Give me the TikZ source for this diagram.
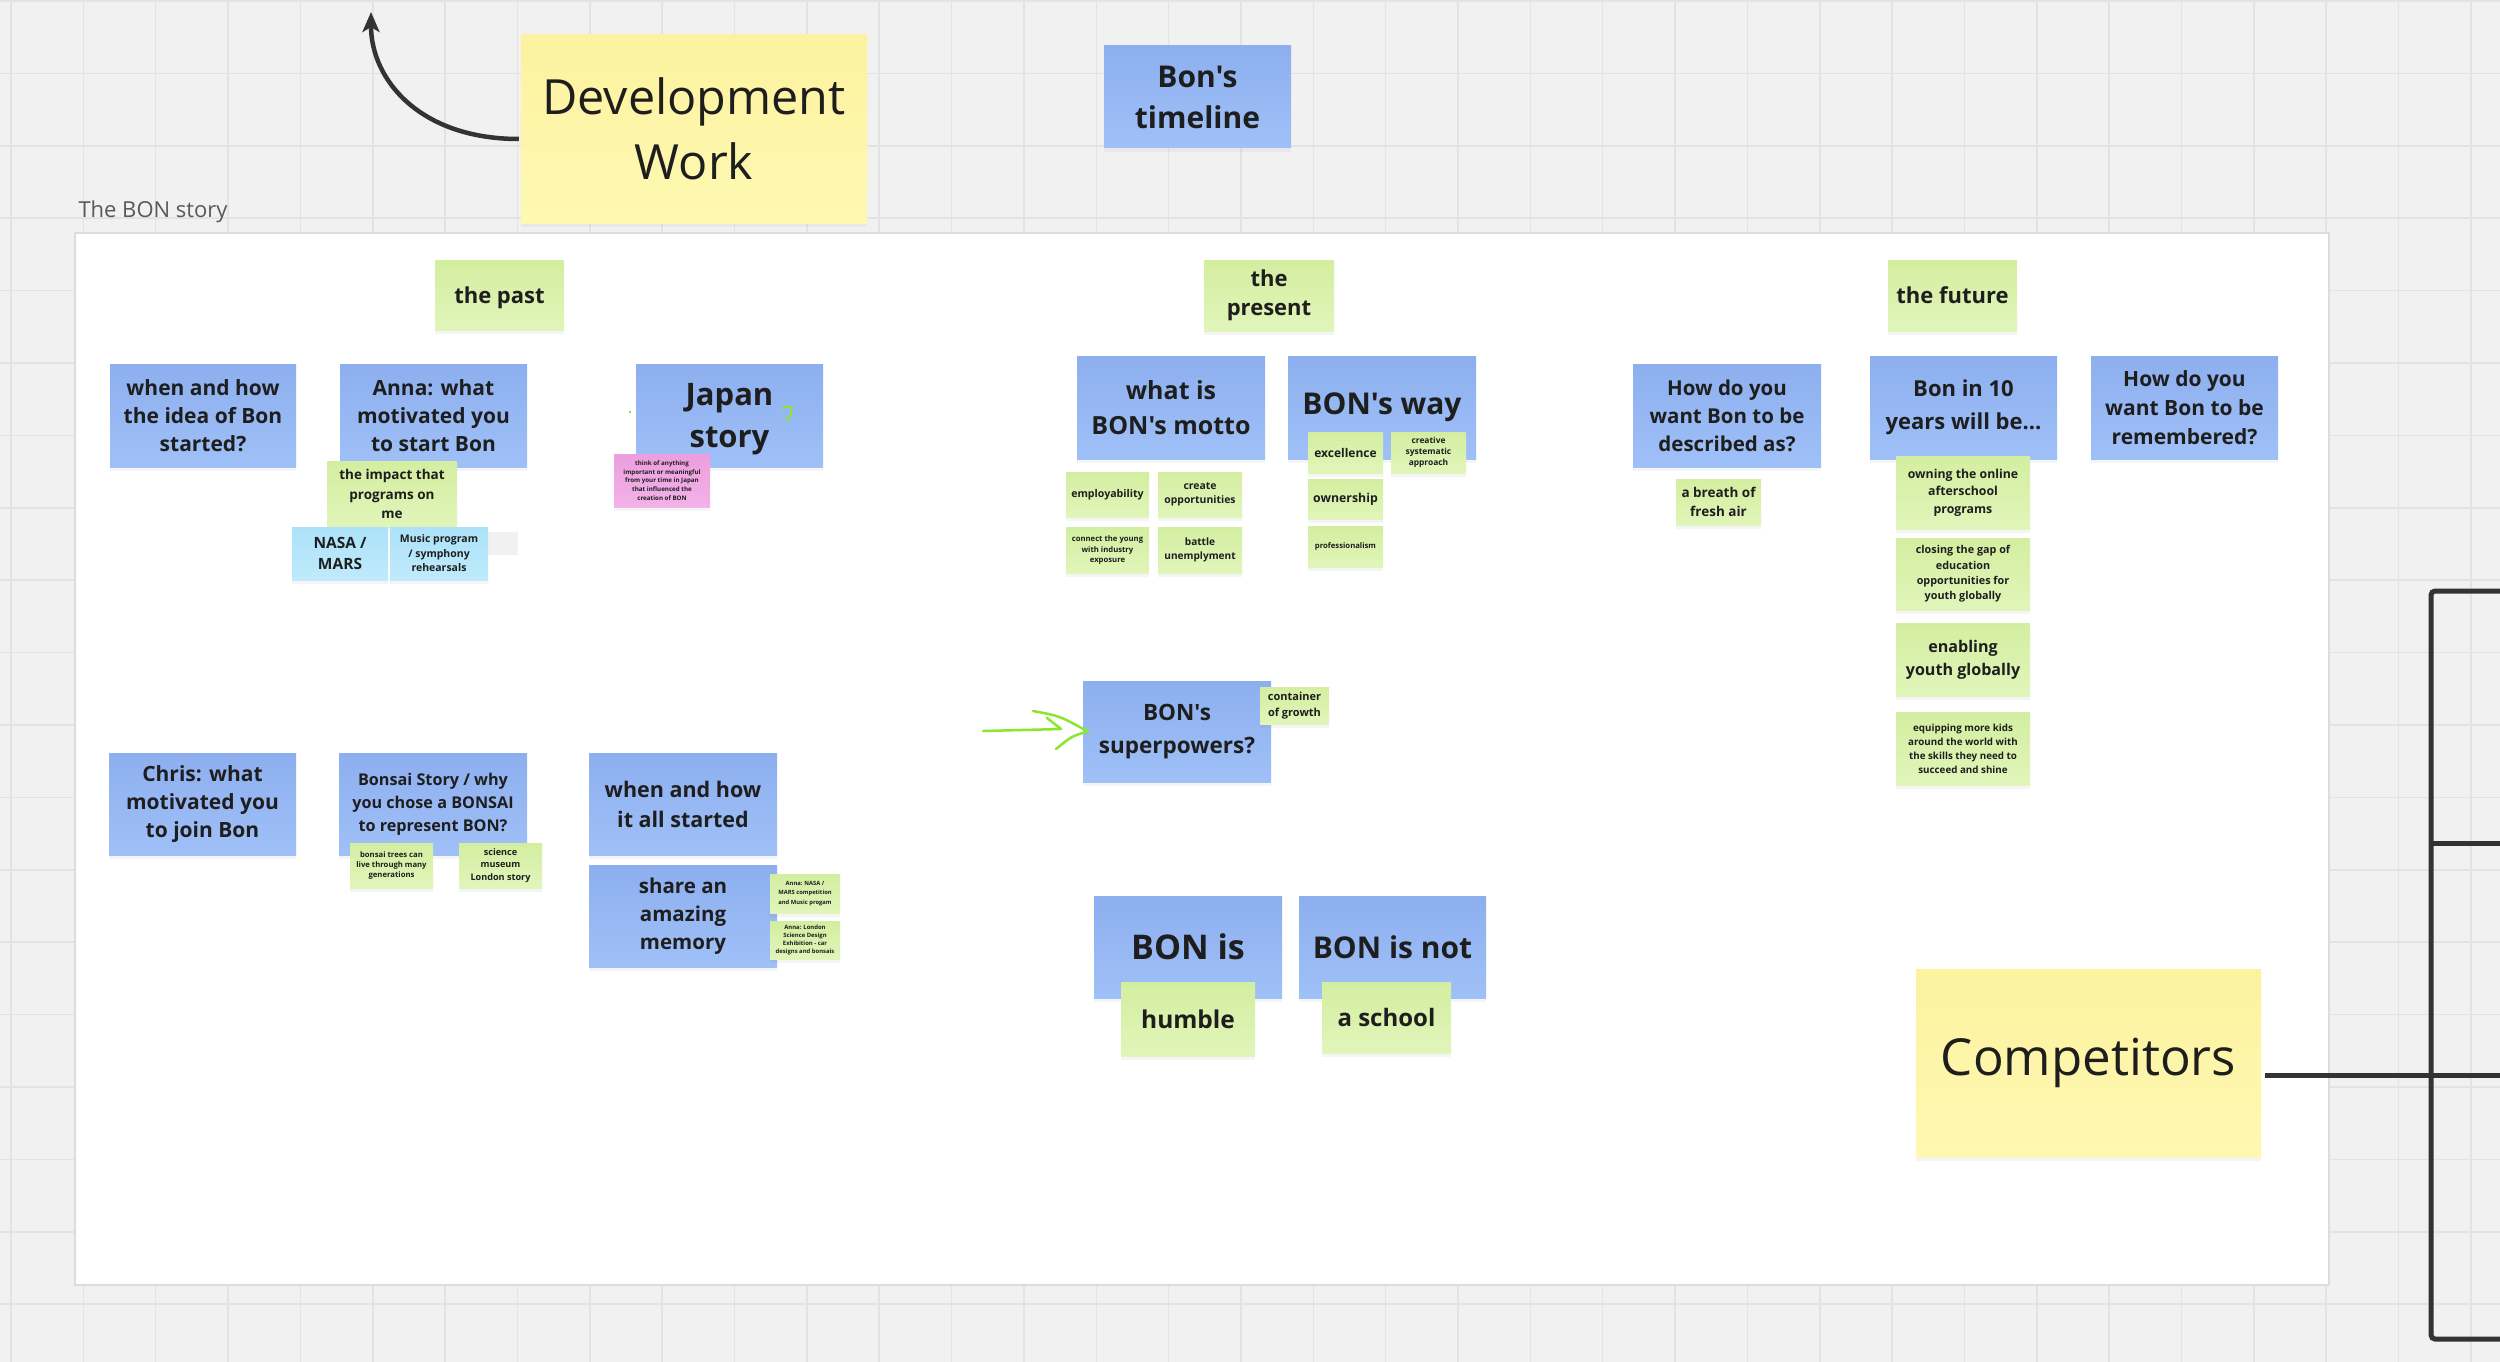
\documentclass[tikz,border=0pt]{standalone}
\usepackage{fontspec}
\setmainfont{Open Sans}
\newfontfamily\osans{Open Sans}
\usetikzlibrary{shadows,arrows.meta,calc}
\definecolor{bgc}{HTML}{F1F1F1}
\definecolor{gridc}{HTML}{E3E3E3}
\definecolor{txt}{HTML}{1E1E1E}
\definecolor{blueT}{HTML}{8DAFEF}
\definecolor{blueB}{HTML}{9FC0F7}
\definecolor{greenT}{HTML}{D3EEA0}
\definecolor{greenB}{HTML}{E1F5BA}
\definecolor{yelT}{HTML}{FCF29F}
\definecolor{yelB}{HTML}{FEF8B2}
\definecolor{lbT}{HTML}{ACE2F9}
\definecolor{lbB}{HTML}{BFEAFC}
\definecolor{pinkT}{HTML}{EC9EDD}
\definecolor{pinkB}{HTML}{F3B2E8}
\definecolor{lime}{HTML}{8BE62E}
\definecolor{darkline}{HTML}{333333}
\definecolor{framec}{HTML}{DCDCDC}
\definecolor{titlec}{HTML}{595959}
\definecolor{graysq}{HTML}{F0F1F3}
\begin{document}
\begin{tikzpicture}[x=1pt,y=-1pt,
  note/.style={inner sep=0pt, align=center, text=txt,
    drop shadow={shadow xshift=0pt, shadow yshift=-4pt, opacity=0.08}},
  bluen/.style={note, top color=blueT, bottom color=blueB},
  greenn/.style={note, top color=greenT, bottom color=greenB},
  yellown/.style={note, top color=yelT, bottom color=yelB},
  lbluen/.style={note, top color=lbT, bottom color=lbB},
  pinkn/.style={note, top color=pinkT, bottom color=pinkB},
  sz/.style n args={2}{minimum width=#1pt, minimum height=#2pt},
  fb/.style n args={2}{font=\osans\fontsize{#1}{#2}\selectfont\bfseries},
  fr/.style n args={2}{font=\osans\fontsize{#1}{#2}\selectfont},
  overtext/.style={inner sep=0pt, align=center, text=txt},
  gridline/.style={draw=gridc, line width=1.5pt},
  heavy/.style={draw=darkline, line width=5pt},
  limestroke/.style={draw=lime, line width=2.5pt, line cap=round, line join=round},
]
\useasboundingbox (0,0) rectangle (2500,1362);
% background grid
\fill[bgc] (0,0) rectangle (2500,1362);
\foreach \k in {0,...,34} \draw[gridline] ({11+72.35*\k},0) -- ({11+72.35*\k},1362);
\foreach \k in {0,...,18} \draw[gridline] (0,{1+72.4*\k}) -- (2500,{1+72.4*\k});

% frame
\node[anchor=base west, text=titlec, font=\osans\fontsize{22}{26}\selectfont] (title) at (75,217) {The BON story};
\draw[fill=white, draw=framec, line width=1.5pt] (75,233) rectangle (2329,1285);

% top notes
\node[yellown, sz={346}{188}, fr={48.5}{65}] (dev) at (694,129) {Development\\Work};
\coordinate (devtip) at (371,12);
\draw[draw=darkline, line width=4.5pt, -{Stealth[length=20pt,width=17pt,inset=5pt]}]
  ([yshift=-10pt,xshift=-2pt]dev.west) .. controls (420,139) and (371,80) .. (devtip);
\node[bluen, sz={187}{102}, fb={30}{41}] (timeline) at (1197.5,97) {Bon's\\timeline};

% headings
\node[greenn, sz={129}{70}] (past) at (499.5,295) {};
\node[overtext, fb={22}{29}] (pasttext) at ([yshift=-2.5pt]past.center) {the past};
\node[greenn, sz={130}{71}, fb={22}{29}] (present) at (1269,295.5) {the\\present};
\node[greenn, sz={129}{71}, fb={22}{29}] (future) at (1952.5,295.5) {the future};

% the past
\node[bluen, sz={186}{103}, fb={21}{28}] (idea) at (203,415.5) {when and how\\the idea of Bon\\started?};
\node[bluen, sz={187}{103}, fb={21}{28}] (anna) at (433.5,415.5) {Anna: what\\motivated you\\to start Bon};
\node[greenn, sz={130}{66}, fb={13.5}{19.5}] (impact) at (392,494) {the impact that\\programs on\\me};
\fill[graysq] (482,532) rectangle (518,555);
\node[lbluen, sz={96}{53}, fb={15.5}{21.5}] (nasa) at (340,553.5) {NASA /\\MARS};
\node[lbluen, sz={98}{53}, fb={10.5}{14.5}] (music) at (439,553.5) {Music program\\/ symphony\\rehearsals};
\node[bluen, sz={187}{103}] (japan) at (729.5,415.5) {};
\node[overtext, fb={31}{42}] (japantext) at ([yshift=-4pt]japan.center) {Japan\\story};
\draw[draw=lime, line width=2pt, line cap=round] (783,408) .. controls (790,403) and (797,410) .. (786,421);
\fill[lime] (630,412) circle (1.3);
\node[pinkn, sz={96}{53}, fb={6.2}{8.8}] (pink) at (662,480.5) {think of anything\\important or meaningful\\from your time in Japan\\that influenced the\\creation of BON};

\node[bluen, sz={187}{102}, fb={21}{28}] (chris) at (202.5,804) {Chris: what\\motivated you\\to join Bon};
\node[bluen, sz={188}{102}, fb={16.2}{23}] (bonsai) at (433,804) {Bonsai Story / why\\you chose a BONSAI\\to represent BON?};
\node[greenn, sz={83}{45}, fb={7.7}{10.3}] (trees) at (391.5,865.5) {bonsai trees can\\live through many\\generations};
\node[greenn, sz={83}{45}, fb={9.1}{12.7}] (science) at (500.5,865.5) {science\\museum\\London story};
\node[bluen, sz={188}{102}, fb={21.5}{30}] (started) at (683,804) {when and how\\it all started};
\node[bluen, sz={188}{102}, fb={20.5}{28}] (memory) at (683,916) {share an\\amazing\\memory};
\node[greenn, sz={70}{39}, fb={5.8}{9.2}] (annanasa) at (805,893.5) {Anna: NASA /\\MARS competition\\and Music progam};
\node[greenn, sz={70}{38}, fb={5.9}{7.9}] (annalondon) at (805,940) {Anna: London\\Science Design\\Exhibition - car\\designs and bonsais};

% the present
\node[bluen, sz={188}{103}, fb={25}{35}] (motto) at (1171,407.5) {what is\\BON's motto};
\node[bluen, sz={188}{103}, fb={30}{40}] (way) at (1382,407.5) {BON's way};
\node[greenn, sz={75}{41}, fb={12}{16}] (excellence) at (1345.5,452.5) {excellence};
\node[greenn, sz={75}{41}, fb={8.4}{11.3}] (creative) at (1428.5,452.5) {creative\\systematic\\approach};
\node[greenn, sz={75}{40}, fb={12.3}{16}] (ownership) at (1345.5,499) {ownership};
\node[greenn, sz={75}{41}, fb={7.7}{10}] (profess) at (1345.5,546.5) {professionalism};
\node[greenn, sz={83}{45}, fb={10.6}{14}] (employ) at (1107.5,494.5) {employability};
\node[greenn, sz={84}{45}, fb={10.4}{14.3}] (create) at (1200,494.5) {create\\opportunities};
\node[greenn, sz={83}{46}, fb={7.7}{10.7}] (connect) at (1107.5,550) {connect the young\\with industry\\exposure};
\node[greenn, sz={84}{46}, fb={10.1}{14.2}] (battle) at (1200,550) {battle\\unemplyment};

\coordinate (arrowstart) at (983,731);
\coordinate (arrowkink) at (1061,729);
\node[bluen, sz={188}{101}, fb={22.5}{33}] (super) at (1177,731.5) {BON's\\superpowers?};
\node[greenn, sz={69}{37}, fb={11}{15.5}] (container) at (1294.5,705.5) {container\\of growth};
\draw[limestroke] (arrowstart) -- (arrowkink) -- (1047,718);
\draw[limestroke] (1033,711) .. controls (1060,716) .. ([xshift=5pt]super.west) .. controls (1072,736) .. (1056,749);

\node[bluen, sz={188}{102}, fb={34}{40}] (bonis) at (1188,947) {BON is};
\node[greenn, sz={134}{74}, fb={24.5}{30}] (humble) at (1188,1019) {humble};
\node[bluen, sz={187}{102}, fb={30}{40}] (bonisnot) at (1392.5,947) {BON is not};
\node[greenn, sz={129}{71}, fb={24}{30}] (school) at (1386.5,1017.5) {a school};

% the future
\node[bluen, sz={188}{103}, fb={20.5}{28}] (described) at (1727,415.5) {How do you\\want Bon to be\\described as?};
\node[greenn, sz={85}{46}, fb={13.5}{18.6}] (breath) at (1718.5,502) {a breath of\\fresh air};
\node[bluen, sz={187}{103}, fb={22}{33}] (ten) at (1963.5,407.5) {Bon in 10\\years will be...};
\node[bluen, sz={187}{103}, fb={21}{29}] (remembered) at (2184.5,407.5) {How do you\\want Bon to be\\remembered?};
\node[greenn, sz={134}{73}, fb={12.3}{17.5}] (owning) at (1963,492.5) {owning the online\\afterschool\\programs};
\node[greenn, sz={134}{72}, fb={10.8}{15.4}] (closing) at (1963,574) {closing the gap of\\education\\opportunities for\\youth globally};
\node[greenn, sz={134}{73}, fb={16.1}{23}] (enabling) at (1963,659.5) {enabling\\youth globally};
\node[greenn, sz={134}{73}, fb={9.8}{14.1}] (equipping) at (1963,748.5) {equipping more kids\\around the world with\\the skills they need to\\succeed and shine};

% competitors and bracket
\node[yellown, sz={345}{188}, fr={51}{60}] (comp) at (2088.5,1063) {Competitors};
\coordinate (compline) at (2265,1075);
\coordinate (compend) at (2500,1075);
\coordinate (brtop) at (2500,591);
\coordinate (brbot) at (2500,1339);
\coordinate (brmid) at (2500,843);
\draw[heavy, rounded corners=4pt] (brtop) -- (2431,591) -- (2431,1339) -- (brbot);
\draw[heavy] (2431,843) -- (brmid);
\draw[heavy] (compline) -- (compend);
\end{tikzpicture}
\end{document}
